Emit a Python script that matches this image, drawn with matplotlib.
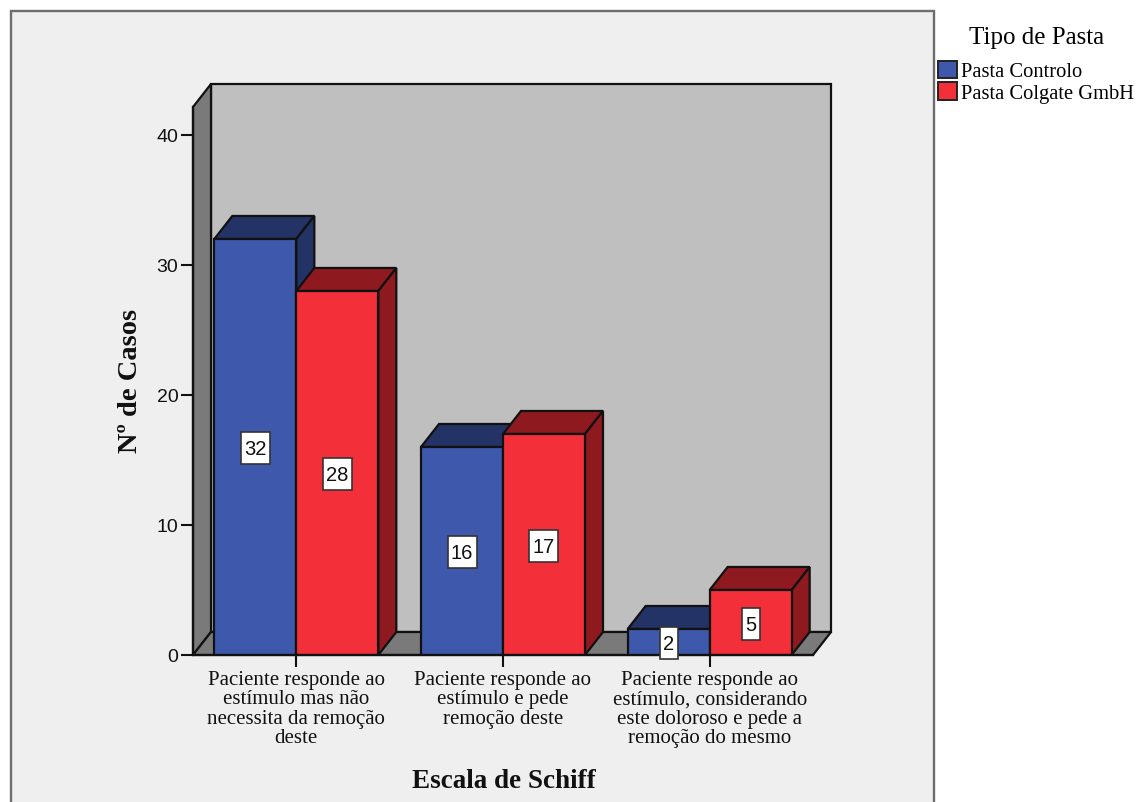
import matplotlib
matplotlib.use("Agg")
import matplotlib.pyplot as plt
from matplotlib.patches import Patch, Polygon, Rectangle

categorias = [
    "Paciente responde ao\nestímulo mas não\nnecessita da remoção\ndeste",
    "Paciente responde ao\nestímulo e pede\nremoção deste",
    "Paciente responde ao\nestímulo, considerando\neste doloroso e pede a\nremoção do mesmo",
]
controlo = [32, 16, 2]
colgate = [28, 17, 5]
series = ["Pasta Controlo", "Pasta Colgate GmbH"]
yticks = [0, 10, 20, 30, 40]

AZUL, AZUL_ESC = "#3e58ac", "#233366"
VERM, VERM_ESC = "#f33039", "#8e1a20"
LINHA = "#111111"
SERIF = "Liberation Serif"
SANS = "Liberation Sans"

W, H = 1139, 803
fig = plt.figure(figsize=(W / 100, H / 100), dpi=100, facecolor="white")

# painel de fundo, continua para alem do limite inferior
fig.add_artist(Rectangle((10.5 / W, -0.02), 923 / W, 1.02 - 11.5 / H, transform=fig.transFigure,
                         facecolor="#efefef", edgecolor="#6e6e6e", linewidth=1.7, zorder=-1))

ax = fig.add_axes([193 / W, 1 - 656 / H, 620 / W, 548 / H])
ax.set_xlim(-0.5, 2.5)
ax.set_ylim(0, 42.15)
ax.patch.set_visible(False)

# escala em pixeis de cada eixo
px_x = 206.67
px_y = 13

# profundidade do efeito 3D em unidades de dados
dx = 18 / px_x
dy = 23 / px_y
xmin, xmax = ax.get_xlim()
ytop = ax.get_ylim()[1]


def poligono(pts, cor, z):
    ax.add_patch(Polygon(pts, closed=True, facecolor=cor, edgecolor=LINHA, linewidth=1.6,
                         joinstyle="miter", clip_on=False, zorder=z))


# paredes e chao
poligono([(xmin + dx, dy), (xmax + dx, dy), (xmax + dx, ytop + dy), (xmin + dx, ytop + dy)], "#bfbfbf", 1)
poligono([(xmin, 0), (xmin + dx, dy), (xmin + dx, ytop + dy), (xmin, ytop)], "#7a7a7a", 1)
poligono([(xmin, 0), (xmax, 0), (xmax + dx, dy), (xmin + dx, dy)], "#7a7a7a", 1)

larg = 82 / px_x
z = 2
for i in range(len(categorias)):
    for x0, v, cor, esc in ((i - larg, controlo[i], AZUL, AZUL_ESC), (i, colgate[i], VERM, VERM_ESC)):
        x1 = x0 + larg
        poligono([(x0, v), (x1, v), (x1 + dx, v + dy), (x0 + dx, v + dy)], esc, z)
        poligono([(x1, 0), (x1 + dx, dy), (x1 + dx, v + dy), (x1, v)], esc, z)
        ax.bar(x0, v, larg, align="edge", color=cor, edgecolor=LINHA, linewidth=1.6, zorder=z + 1)
        z += 2

# etiquetas de valor: caixa branca mais alta do que larga
for i in range(len(categorias)):
    for xc, v in ((i - larg / 2, controlo[i]), (i + larg / 2, colgate[i])):
        caixa_w = (11 * len(str(v)) + 7) / px_x
        caixa_h = 32 / px_y
        ax.add_patch(Rectangle((xc - caixa_w / 2, v / 2 - caixa_h / 2 - 0.1), caixa_w, caixa_h, facecolor="white",
                               edgecolor="#333333", linewidth=1.2, clip_on=False, zorder=50))
        ax.text(xc, v / 2 - 0.12, str(v), ha="center", va="center", family=SANS, fontsize=14.5, color="#111111",
                zorder=51, clip_on=False)

ax.set_yticks(yticks)
ax.set_xticks(range(len(categorias)))
ax.set_xticklabels(categorias, family=SERIF, fontsize=15, linespacing=1.03, color="#111111")
for t in ax.get_yticklabels():
    t.set_family(SANS)
    t.set_fontsize(14)
    t.set_color("#111111")
ax.tick_params(axis="both", length=8.6, width=1.5, color=LINHA, pad=2)

for lado in ("top", "right"):
    ax.spines[lado].set_visible(False)
for lado in ("left", "bottom"):
    ax.spines[lado].set_linewidth(1.6)
    ax.spines[lado].set_color(LINHA)
    ax.spines[lado].set_zorder(40)

ax.set_xlabel("Escala de Schiff", family=SERIF, fontsize=19.5, fontweight="bold", color="#111111")
ax.xaxis.set_label_coords(0.5016, -0.229)
ax.xaxis.label.set_va("center")
ax.set_ylabel("Nº de Casos", family=SERIF, fontsize=20.5, fontweight="bold", color="#111111")
ax.yaxis.set_label_coords(-0.1, 0.502)
ax.yaxis.label.set_va("center")

handles = [Patch(facecolor=AZUL, edgecolor="#222222", linewidth=1.4, label=series[0]),
           Patch(facecolor=VERM, edgecolor="#222222", linewidth=1.4, label=series[1])]
leg = fig.legend(handles=handles, title="Tipo de Pasta", loc="upper left",
                 bbox_to_anchor=(938 / W, 1 - 27 / H), borderaxespad=0, borderpad=0, frameon=False,
                 prop={"family": SERIF, "size": 14.8}, handlelength=0.93, handleheight=0.93,
                 handletextpad=0.2, labelspacing=0.05,
                 title_fontproperties={"family": SERIF, "size": 18})
leg._legend_box.sep = 9
leg.set_zorder(5)

fig.savefig("out.png", dpi=100)
